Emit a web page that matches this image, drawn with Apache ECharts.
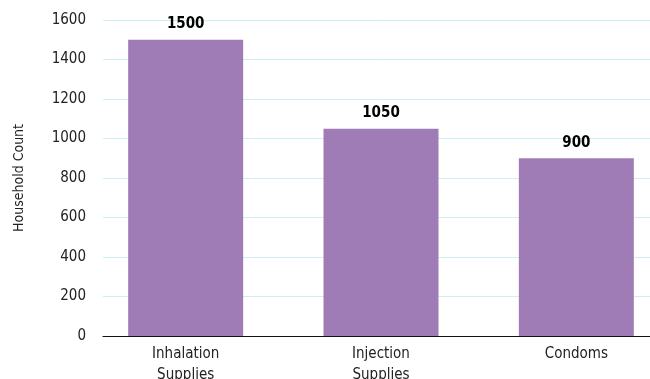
<!DOCTYPE html>
<html>
<head>
<meta charset="utf-8">
<script src="https://cdn.jsdelivr.net/npm/echarts@6/dist/echarts.min.js"></script>
<style>
  html, body { margin: 0; padding: 0; background: #fff; }
  #chart { width: 650px; height: 379px; }
</style>
</head>
<body>
<div id="chart"></div>
<script>
// Household counts by supply type
const categories = ['Inhalation\nSupplies', 'Injection\nSupplies', 'Condoms'];
const householdCounts = [1500, 1050, 900];
const yTicks = { min: 0, max: 1600, interval: 200 };

const FONT = '"Liberation Sans Narrow", "DejaVu Sans Condensed", sans-serif';

const chart = echarts.init(document.getElementById('chart'), null, { renderer: 'canvas' });

chart.setOption({
  animation: false,
  backgroundColor: '#ffffff',
  grid: [
    // frame grid: gridlines, y labels, baseline
    { left: 103, right: 0, top: 20, bottom: 43, containLabel: false, outerBoundsMode: 'none' },
    // bar grid: category bands
    { left: 88, right: -24, top: 20, bottom: 43, containLabel: false, outerBoundsMode: 'none' }
  ],
  xAxis: [
    {
      gridIndex: 0, type: 'value', min: 0, max: 1,
      axisLine: { show: true, onZero: false, lineStyle: { color: '#111', width: 1.2 } },
      axisTick: { show: false }, axisLabel: { show: false }, splitLine: { show: false }
    },
    {
      gridIndex: 1, type: 'category', data: categories,
      axisLine: { show: false }, axisTick: { show: false },
      axisLabel: {
        color: '#222', fontFamily: FONT, fontSize: 15, lineHeight: 21, margin: 8
      }
    }
  ],
  yAxis: [
    {
      gridIndex: 0, type: 'value', min: yTicks.min, max: yTicks.max, interval: yTicks.interval,
      name: 'Household Count', nameLocation: 'middle', nameGap: 77, nameRotate: 90,
      nameTextStyle: { color: '#222', fontFamily: FONT, fontSize: 14 },
      axisLine: { show: false }, axisTick: { show: false },
      axisLabel: {
        color: '#222', fontFamily: FONT, fontSize: 15, margin: 17,
        formatter: (v) => String(v)
      },
      splitLine: { show: true, lineStyle: { color: '#cdeef5', width: 1 } }
    },
    {
      gridIndex: 1, type: 'value', min: yTicks.min, max: yTicks.max, interval: yTicks.interval,
      show: false, splitLine: { show: false }
    }
  ],
  series: [
    {
      type: 'bar',
      xAxisIndex: 1, yAxisIndex: 1,
      data: householdCounts,
      barWidth: 115,
      itemStyle: { color: '#a07cb6' },
      label: {
        show: true, position: 'top', distance: 8,
        color: '#000', fontFamily: FONT, fontWeight: 'bold', fontSize: 15
      },
      z: 3
    }
  ]
});
</script>
</body>
</html>
